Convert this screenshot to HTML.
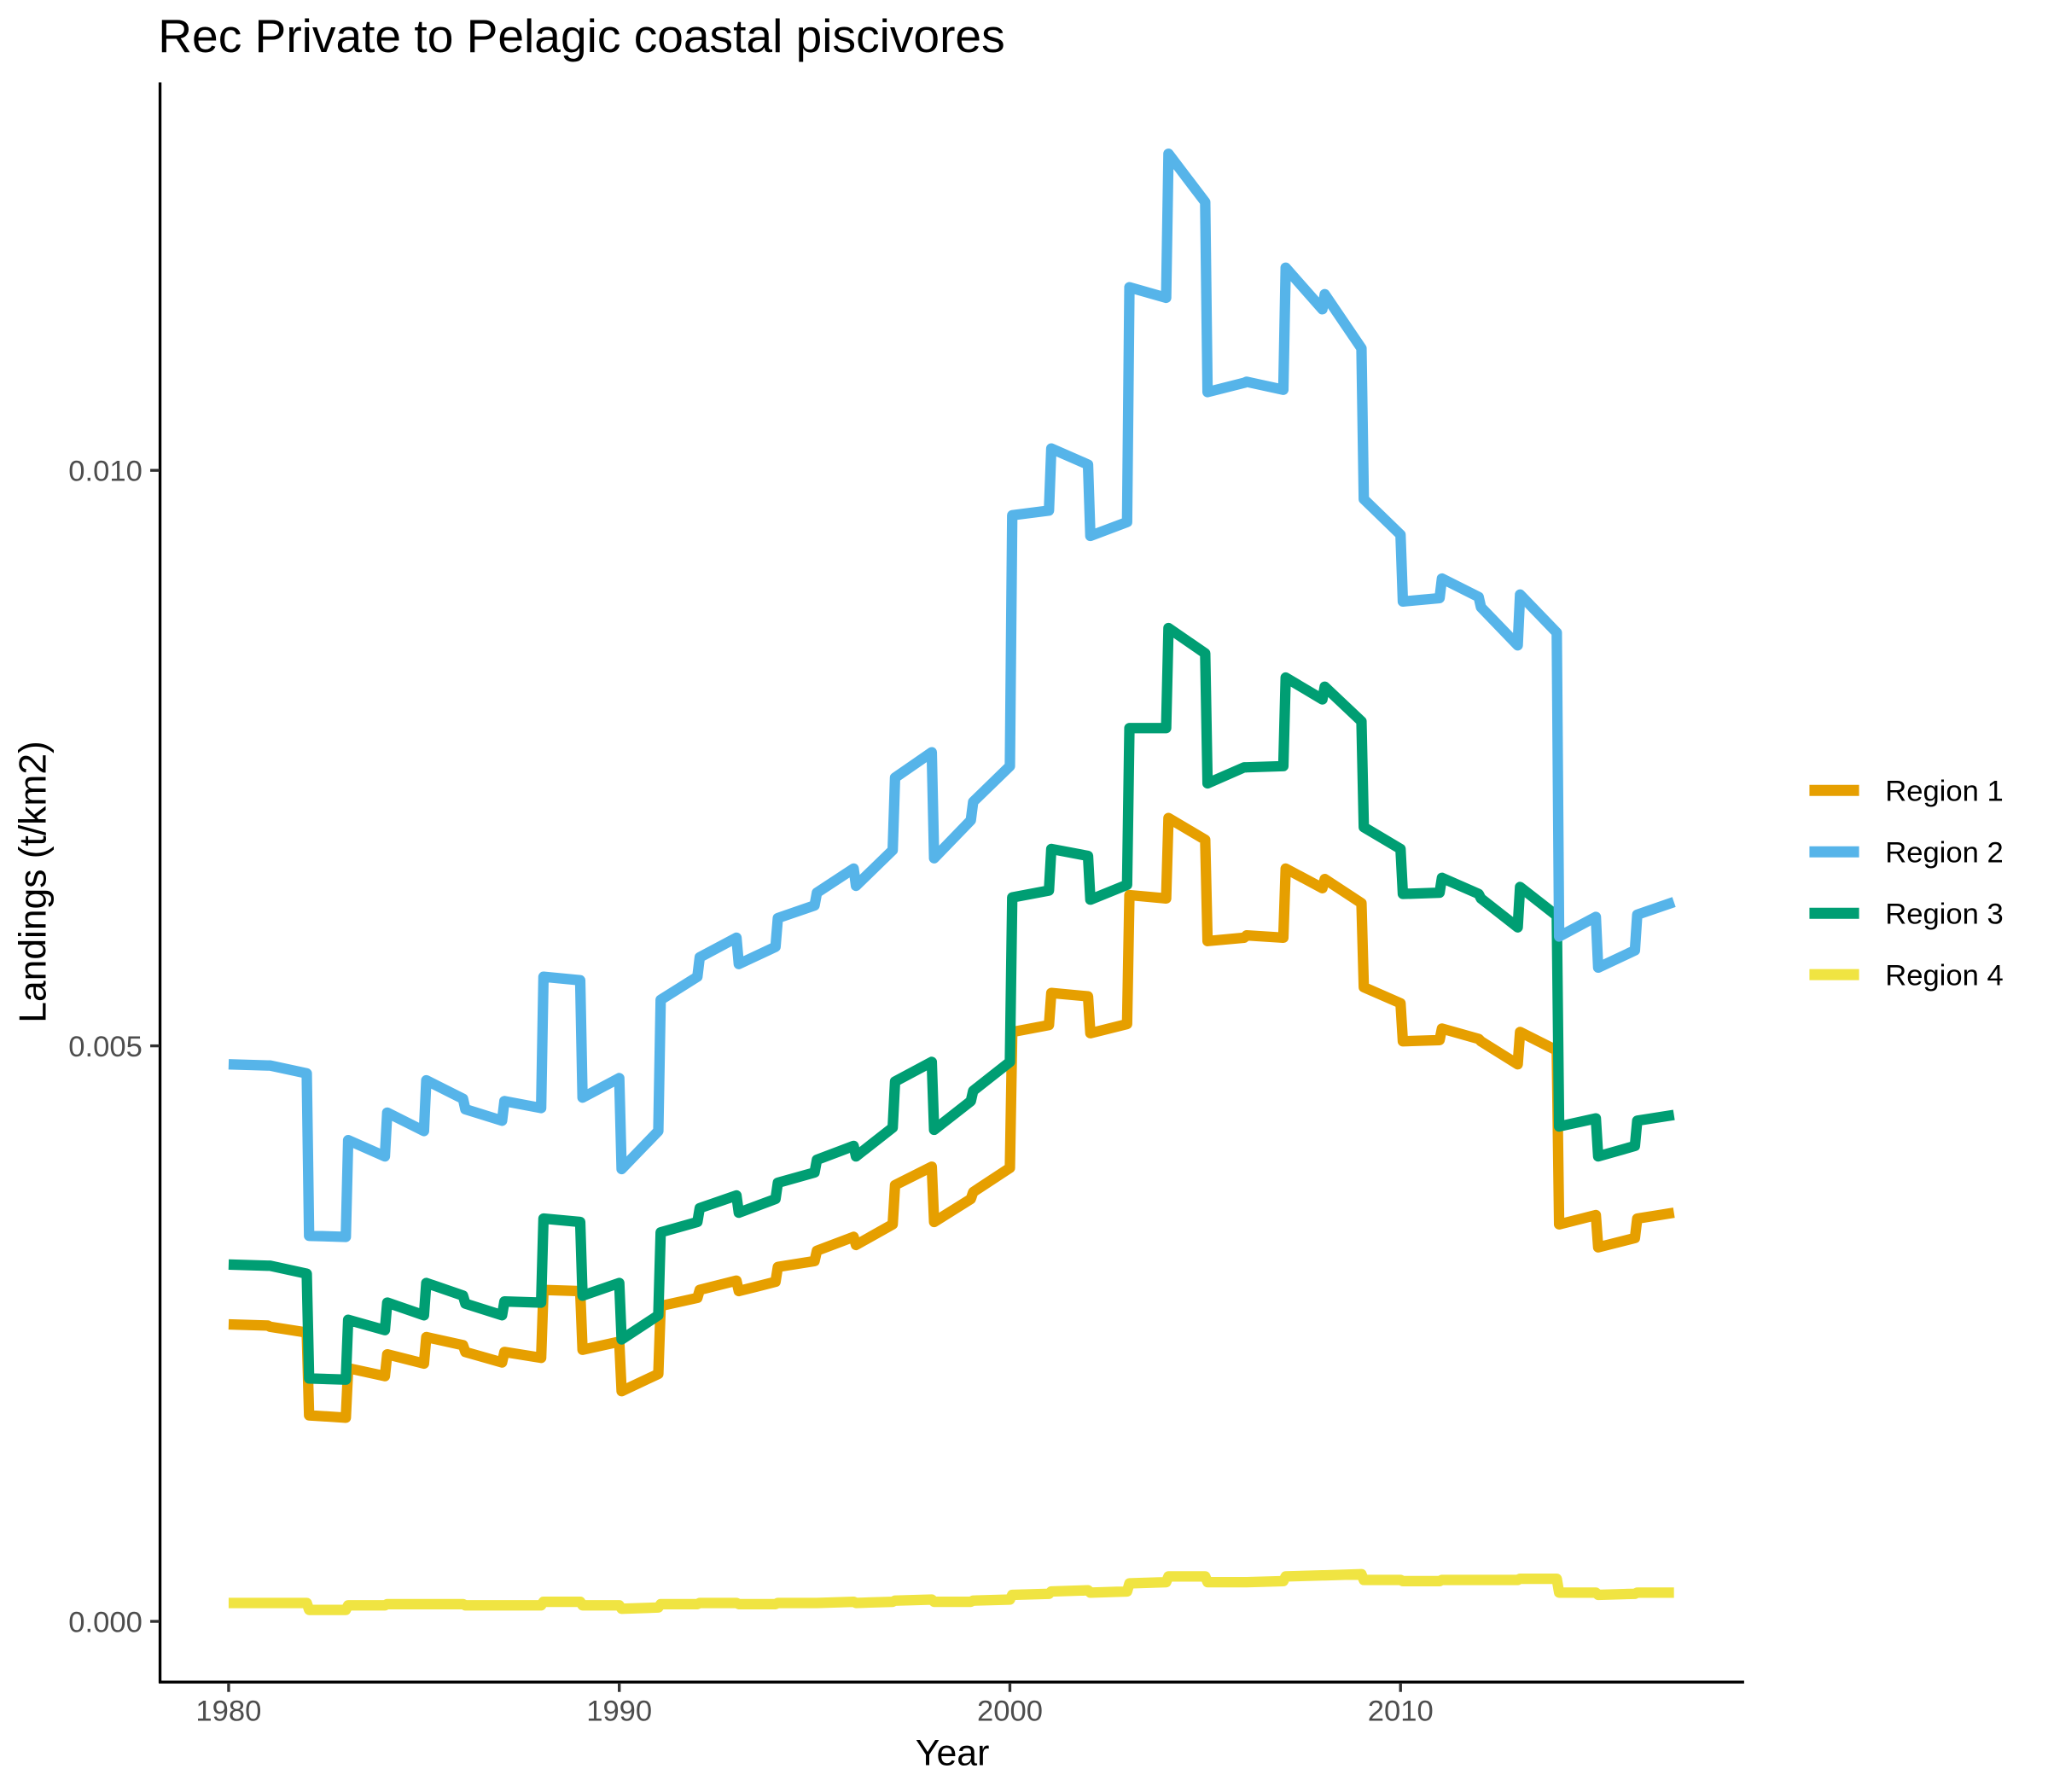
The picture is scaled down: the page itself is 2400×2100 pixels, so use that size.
<!DOCTYPE html>
<html><head><meta charset="utf-8"><style>
html,body{margin:0;padding:0;background:#fff}
svg{display:block}
text{font-family:"Liberation Sans",Arial,sans-serif}
</style></head><body>
<svg id="chart" width="2400" height="2100" viewBox="0 0 1567.6 1371.6" preserveAspectRatio="none" xmlns="http://www.w3.org/2000/svg">
<rect width="1568" height="1372" fill="#fff"/>
<text x="121" y="40" font-size="36" fill="#000">Rec Private to Pelagic coastal piscivores</text>
<g id="series"></g>
<line x1="122.5" y1="63" x2="122.5" y2="1288" stroke="#000" stroke-width="2.2"/>
<line x1="121.5" y1="1287.5" x2="1335" y2="1287.5" stroke="#000" stroke-width="2.2"/>
<g id="axes"></g>
<text x="729" y="1351" font-size="28" text-anchor="middle" fill="#000">Year</text>
<text transform="translate(35,675) rotate(-90)" font-size="29" text-anchor="middle" fill="#000">Landings (t/km2)</text>
<g id="legend"></g>
</svg>
<script>
const years = [1980,1981,1982,1983,1984,1985,1986,1987,1988,1989,1990,1991,1992,1993,1994,1995,1996,1997,1998,1999,2000,2001,2002,2003,2004,2005,2006,2007,2008,2009,2010,2011,2012,2013,2014,2015,2016];
const seriesNames = ["Region 1","Region 2","Region 3","Region 4"];
const r1Start = [2.58,2.56,1.79,2.20,2.32,2.47,2.34,2.34,2.88,2.36,2.00,2.74,2.88,2.87,3.08,3.22,3.27,3.79,3.47,3.73,5.12,5.46,5.11,6.31,6.98,5.91,5.96,6.54,6.45,5.51,5.04,5.15,5.04,5.12,3.45,3.25,3.50];
const r1End   = [2.57,2.51,1.77,2.13,2.24,2.40,2.25,2.29,2.87,2.43,2.15,2.81,2.96,2.95,3.13,3.34,3.45,3.95,3.67,3.94,5.18,5.43,5.19,6.28,6.79,5.94,5.94,6.37,6.24,5.37,5.05,5.06,4.84,4.96,3.53,3.33,3.55];
const r2Start = [4.84,4.83,3.35,4.18,4.42,4.70,4.45,4.52,5.60,4.55,3.93,5.40,5.77,5.71,6.11,6.33,6.39,7.33,6.63,7.12,9.61,10.19,9.43,11.59,12.75,10.68,10.77,11.76,11.53,9.75,8.86,9.06,8.81,8.92,5.95,5.68,6.14];
const r2End   = [4.83,4.76,3.34,4.04,4.26,4.54,4.35,4.46,5.57,4.72,4.26,5.60,5.94,5.86,6.22,6.54,6.70,7.55,6.96,7.43,9.65,10.05,9.55,11.50,12.33,10.76,10.70,11.40,11.06,9.44,8.89,8.90,8.48,8.59,6.12,5.83,6.25];
const r3Start = [3.10,3.09,2.11,2.62,2.77,2.94,2.76,2.78,3.50,2.83,2.45,3.38,3.59,3.55,3.81,4.01,4.04,4.69,4.27,4.61,6.29,6.71,6.27,7.76,8.63,7.28,7.42,8.20,8.12,6.90,6.32,6.46,6.28,6.38,4.30,4.04,4.35];
const r3End   = [3.09,3.02,2.10,2.53,2.66,2.83,2.66,2.77,3.47,2.94,2.66,3.47,3.70,3.67,3.90,4.13,4.29,4.86,4.52,4.86,6.35,6.65,6.40,7.76,8.41,7.42,7.43,8.01,7.82,6.71,6.33,6.32,6.03,6.13,4.37,4.13,4.40];
const r4Start = [0.16,0.16,0.10,0.14,0.15,0.15,0.14,0.14,0.17,0.14,0.11,0.15,0.16,0.15,0.16,0.16,0.16,0.18,0.17,0.18,0.23,0.26,0.25,0.33,0.39,0.34,0.34,0.39,0.40,0.36,0.35,0.36,0.36,0.37,0.25,0.23,0.25];
const r4End   = [0.16,0.16,0.10,0.14,0.15,0.15,0.14,0.14,0.17,0.14,0.12,0.15,0.16,0.15,0.16,0.17,0.17,0.19,0.17,0.19,0.24,0.27,0.26,0.34,0.39,0.34,0.35,0.40,0.41,0.36,0.35,0.36,0.36,0.37,0.25,0.24,0.25];
const xTicks = [1980,1990,2000,2010];
const yTicks = [0,5,10];
const yTickLabels = ["0.000","0.005","0.010"];
const colors = ["#E69F00","#56B4E9","#009E73","#F0E442"];

const NS = "http://www.w3.org/2000/svg";
function xs(v){ return 175 + (v-1980)*29.9; }
function ys(v){ return 1241 - v*88.1; }
function mk(tag, attrs, parent){ const e=document.createElementNS(NS,tag); for(const k in attrs) e.setAttribute(k,attrs[k]); parent.appendChild(e); return e; }

const sg = document.getElementById("series");
const starts=[r1Start,r2Start,r3Start,r4Start], ends=[r1End,r2End,r3End,r4End];
[3,0,2,1].forEach(s=>{
  let d="";
  years.forEach((y,i)=>{
    const x0 = i===0 ? y : y+0.06;
    d += (i===0?"M":"L")+xs(x0).toFixed(1)+","+ys(starts[s][i]).toFixed(1)+" L"+xs(y+1).toFixed(1)+","+ys(ends[s][i]).toFixed(1)+" ";
  });
  const p = mk("path",{d:d,fill:"none",stroke:colors[s],"stroke-width":8,"stroke-linejoin":"round"},sg);
  
  
});

const ag = document.getElementById("axes");
xTicks.forEach(t=>{
  const l=mk("line",{x1:xs(t),x2:xs(t),y1:1288,y2:1295,stroke:"#333","stroke-width":2.2},ag);
  
  
  const tx=mk("text",{x:xs(t),y:1317,"font-size":22.6,"text-anchor":"middle",fill:"#4d4d4d"},ag);
  tx.textContent=t;
  
  
});
yTicks.forEach((t,i)=>{
  const l=mk("line",{x1:115,x2:122,y1:ys(t),y2:ys(t),stroke:"#333","stroke-width":2.2},ag);
  
  
  const tx=mk("text",{x:109,y:ys(t)+8,"font-size":22.6,"text-anchor":"end",fill:"#4d4d4d"},ag);
  tx.textContent=yTickLabels[i];
  
  
});

const lg = document.getElementById("legend");
seriesNames.forEach((n,i)=>{
  const y=605+i*47;
  const g=mk("g",{},lg);
  
  
  mk("line",{x1:1385,x2:1423,y1:y,y2:y,stroke:colors[i],"stroke-width":8.5},g);
  const tx=mk("text",{x:1443,y:y+8,"font-size":22.6,fill:"#000"},g);
  tx.textContent=n;
});
</script>
</body></html>
